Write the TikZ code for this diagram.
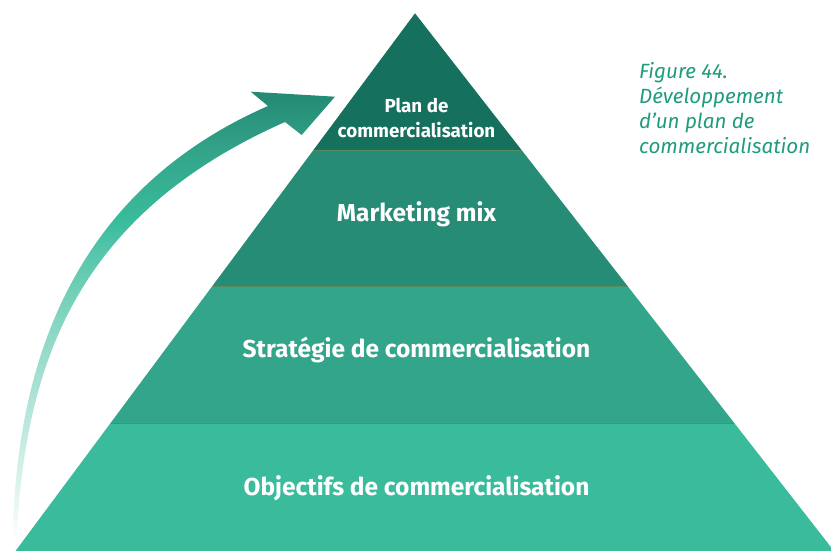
\documentclass[tikz,border=0pt]{standalone}
\usepackage{fontspec}
\setmainfont{Fira Sans}
\usetikzlibrary{calc}

\definecolor{bandA}{HTML}{15705D}
\definecolor{bandB}{HTML}{278C76}
\definecolor{bandC}{HTML}{33A58A}
\definecolor{bandD}{HTML}{3ABC9C}
\definecolor{seam}{HTML}{5A8C62}
\definecolor{captiongreen}{HTML}{1F9B7D}

% fading green arrow: pale at its foot, dark at its head
\pgfdeclareverticalshading{arrowfade}{100bp}{%
  color(0bp)=(white); color(25bp)=(white);
  color(29bp)=(white!88!bandD); color(37bp)=(white!68!bandD);
  color(48bp)=(white!42!bandD); color(57bp)=(white!15!bandD);
  color(60.5bp)=(bandD); color(68bp)=(bandC);
  color(75bp)=(bandB!88!bandA); color(100bp)=(bandB!88!bandA)}

\tikzset{
  bandlabel/.style={text=white, font=\bfseries\fontsize{24.5}{28}\selectfont, inner sep=0pt},
  toplabel/.style={text=white, font=\bfseries\fontsize{18.8}{25}\selectfont, align=center, inner sep=0pt},
  seamline/.style={draw=seam, line width=0.7pt},
  caption/.style={text=captiongreen, font=\itshape\fontsize{20.6}{25}\selectfont, align=left, inner sep=0pt}
}

\begin{document}
\begin{tikzpicture}[x=1pt,y=-1pt]
\useasboundingbox (0,0) rectangle (831,551);
\clip (0,0) rectangle (831,551);

% pyramid corners
\coordinate (apex) at (415,13.3);
\coordinate (bl) at (15.5,551);
\coordinate (br) at (834,551);

% band boundaries along both flanks
\coordinate (l1) at ($(apex)!0.2543!(bl)$);
\coordinate (r1) at ($(apex)!0.2543!(br)$);
\coordinate (l2) at ($(apex)!0.5085!(bl)$);
\coordinate (r2) at ($(apex)!0.5085!(br)$);
\coordinate (l3) at ($(apex)!0.7619!(bl)$);
\coordinate (r3) at ($(apex)!0.7619!(br)$);

\fill[bandA] (apex) -- (r1) -- (l1) -- cycle;
\fill[bandB] (l1) -- (r1) -- (r2) -- (l2) -- cycle;
\fill[bandC] (l2) -- (r2) -- (r3) -- (l3) -- cycle;
\fill[bandD] (l3) -- (r3) -- (br) -- (bl) -- cycle;

\draw[seamline] (l1) -- (r1);
\draw[seamline] (l2) -- (r2);
\draw[seamline] (l3) -- (r3);

% rising arrow
\shade[shading=arrowfade]
  (13,540) .. controls (15,360) and (76,190) .. (268,106)
  -- (250.7,91.7) -- (335,96.7) -- (301.7,135) -- (285,122)
  .. controls (75,215) and (25,365) .. (16.5,540) -- cycle;

% labels
\node[toplabel] (plan) at (416.5,118.5) {Plan de\\commercialisation};
\node[bandlabel, anchor=base] (mix) at (416.5,221.7) {Marketing mix};
\node[bandlabel, anchor=base] (strat) at (416.5,357.3) {Stratégie de commercialisation};
\node[bandlabel, anchor=base] (obj) at (416.5,495.5) {Objectifs de commercialisation};

\node[caption, anchor=north west] (cap) at (639,62) {Figure 44.\\Développement\\d’un plan de\\commercialisation};
\end{tikzpicture}
\end{document}
